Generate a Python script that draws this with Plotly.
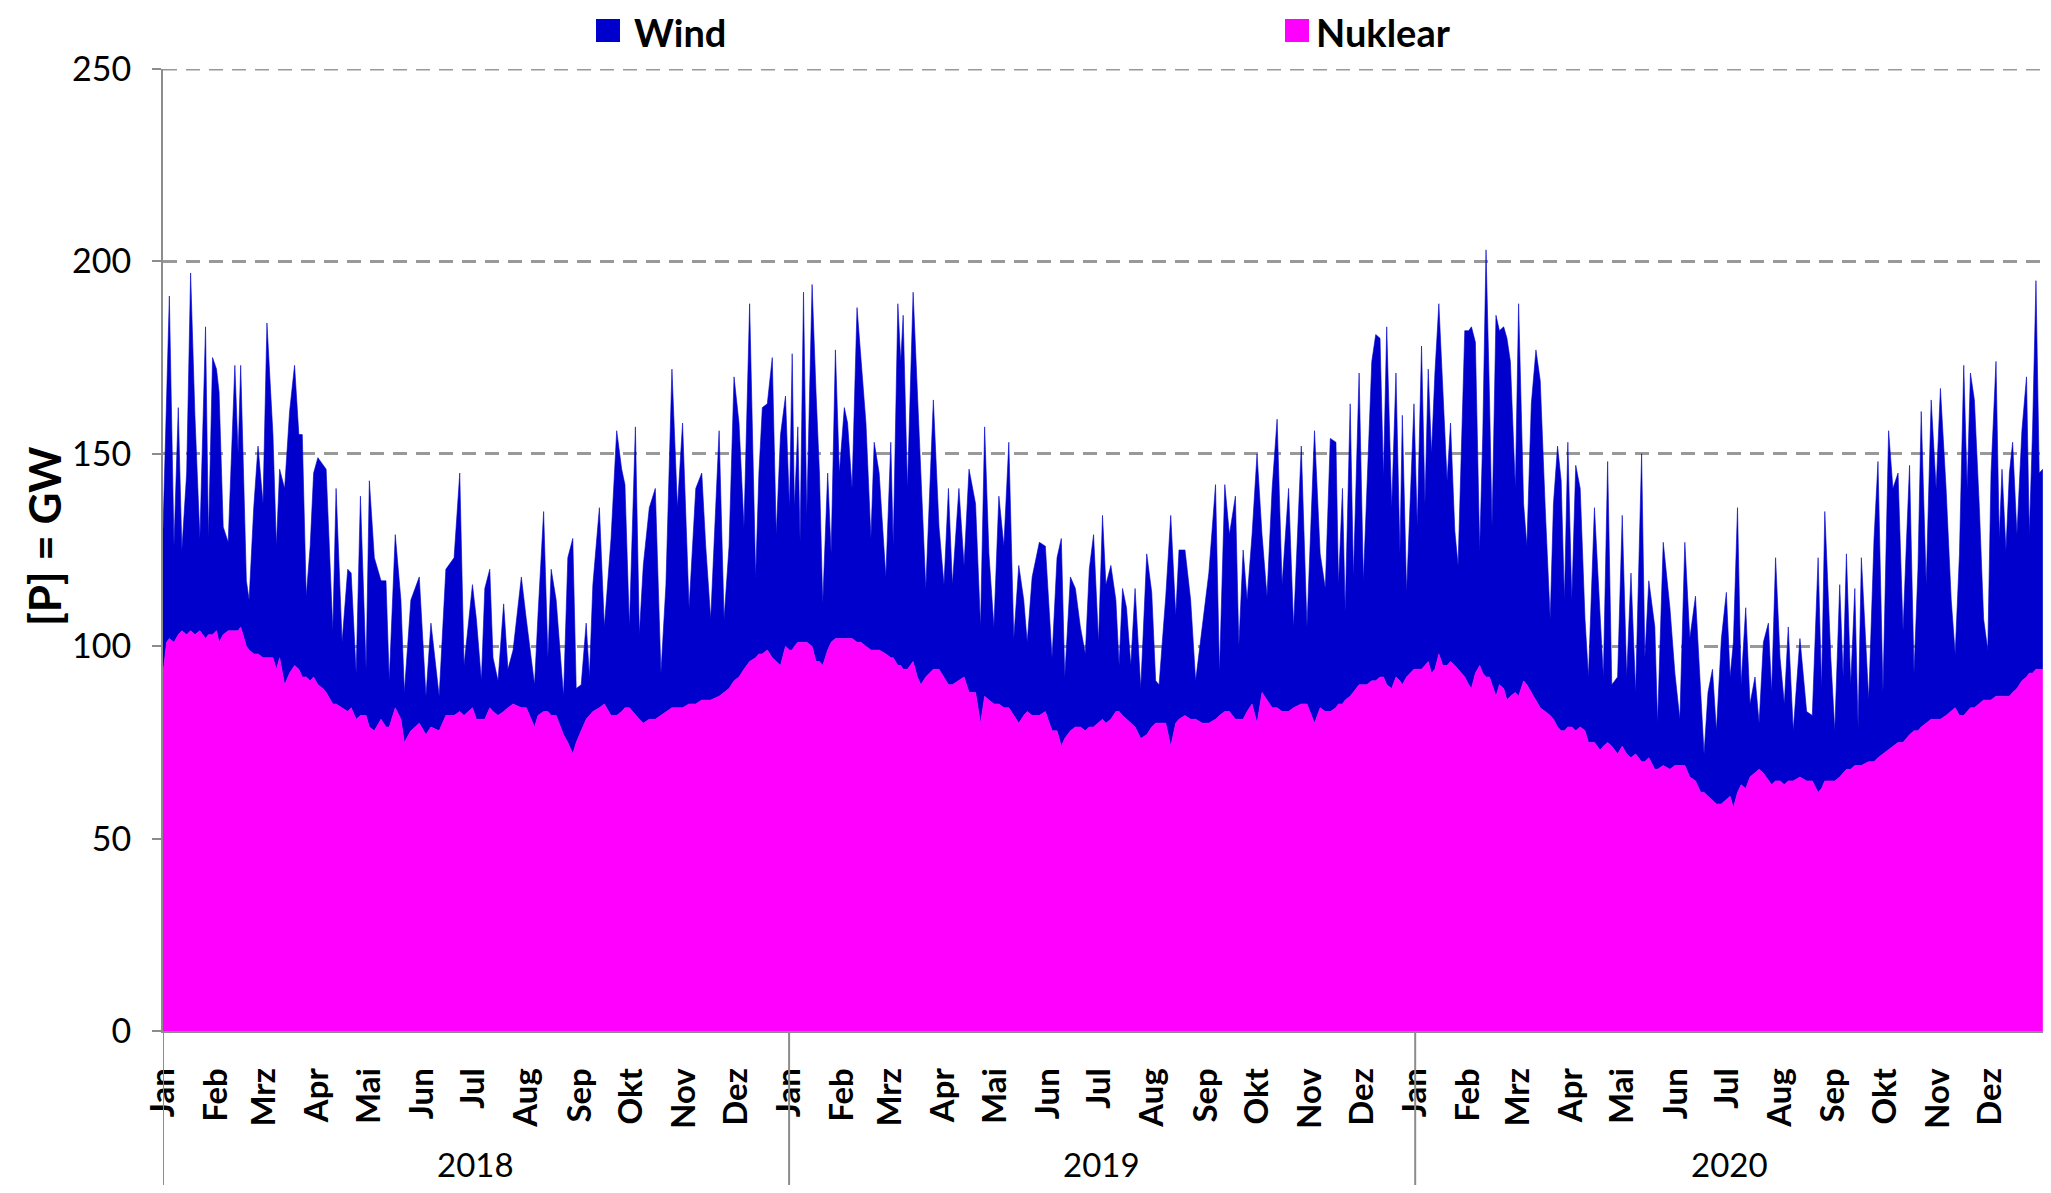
import pandas as pd
import plotly.graph_objects as go

# Values (GW). Day = days since 1 January of the year.
tage_2018 = [0.0, 2.1, 3.7, 6.4, 8.9, 11.0, 13.8, 16.1, 18.6, 21.5, 24.8, 26.5, 28.9, 31.2, 32.7, 35.1, 38.0, 41.9, 43.8, 45.3,
             48.6, 50.2, 52.9, 55.4, 58.3, 60.6, 64.1, 66.1, 68.0, 70.9, 73.8, 76.7, 79.2, 81.2, 83.5, 85.8, 87.8, 90.3, 93.2, 95.1,
             99.0, 100.9, 104.4, 107.7, 109.7, 112.6, 115.1, 118.4, 120.3, 123.2, 127.1, 130.0, 131.9, 135.4, 138.7, 140.7, 144.5, 149.4, 153.3, 156.2,
             161.0, 164.9, 169.7, 173.0, 175.5, 180.4, 182.7, 185.6, 187.6, 190.5, 192.4, 195.3, 198.6, 201.1, 204.1, 208.9, 211.8, 216.6, 218.6, 221.9,
             224.4, 226.3, 229.2, 233.5, 236.0, 238.9, 240.9, 243.8, 246.7, 248.6, 250.6, 254.4, 257.3, 261.2, 264.5, 267.4, 269.3, 271.9, 275.4, 277.7,
             280.0, 283.5, 287.0, 290.3, 293.2, 296.7, 299.9, 302.9, 306.7, 310.6, 314.1, 316.4, 319.3, 324.2, 327.1, 330.0, 332.9, 335.8, 338.7, 342.0,
             345.5, 347.4, 349.4, 352.3, 355.2, 357.5, 360.0, 362.9]
nuklear_2018 = [93, 101, 102, 101, 103, 104, 103, 104, 103, 104, 102, 103, 103, 104, 101, 103, 104, 104, 104, 105,
                100, 99, 98, 98, 97, 97, 97, 94, 97, 90, 93, 95, 94, 92, 92, 91, 92, 90, 89, 88,
                85, 85, 84, 83, 84, 81, 82, 82, 79, 78, 81, 79, 79, 84, 81, 75, 78, 80, 77, 79,
                78, 82, 82, 83, 82, 84, 81, 81, 81, 84, 83, 82, 83, 84, 85, 84, 84, 79, 82, 83,
                83, 82, 82, 77, 75, 72, 75, 78, 81, 82, 83, 84, 85, 82, 82, 83, 84, 84, 82, 81,
                80, 81, 81, 82, 83, 84, 84, 84, 85, 85, 86, 86, 86, 87, 88, 89, 91, 92, 94, 96,
                97, 98, 98, 99, 97, 96, 95, 100]
wind_2018 = [37, 66, 89, 25, 59, 21, 42, 93, 57, 24, 81, 25, 72, 68, 65, 28, 23, 69, 46, 68,
             17, 13, 38, 54, 40, 87, 58, 32, 49, 51, 68, 78, 61, 63, 21, 35, 53, 59, 58, 58,
             19, 56, 17, 37, 35, 12, 57, 12, 64, 45, 36, 38, 12, 45, 31, 13, 34, 38, 10, 27,
             9, 38, 41, 62, 13, 32, 26, 10, 34, 36, 14, 9, 28, 10, 14, 34, 23, 11, 26, 52,
             14, 38, 30, 10, 48, 56, 14, 12, 25, 10, 33, 52, 20, 46, 74, 63, 58, 21, 75, 22,
             41, 55, 60, 11, 33, 88, 52, 74, 25, 56, 59, 40, 21, 69, 19, 37, 79, 66, 37, 93,
             21, 47, 64, 64, 78, 33, 60, 65]

tage_2019 = [0.2, 1.8, 3.1, 5.1, 6.4, 8.4, 10.3, 13.4, 15.7, 17.7, 19.6, 22.5, 24.5, 27.0, 29.3, 32.2, 34.1, 36.7, 39.6, 41.9,
             44.8, 47.7, 49.6, 52.5, 56.4, 59.3, 60.7, 63.4, 65.1, 66.5, 69.0, 72.3, 74.8, 76.8, 79.7, 84.1, 87.4, 90.3, 92.9, 95.2,
             99.0, 102.0, 104.9, 108.7, 111.6, 114.0, 116.5, 119.4, 122.3, 125.2, 128.1, 131.0, 133.9, 136.8, 138.8, 141.7, 145.9, 149.4, 153.3, 156.2,
             158.7, 160.7, 164.0, 166.9, 169.8, 172.7, 175.0, 177.5, 180.4, 182.7, 184.7, 187.6, 190.5, 192.4, 194.4, 196.7, 199.2, 201.7, 205.0, 208.5,
             211.4, 213.7, 215.7, 219.6, 222.5, 225.4, 227.3, 230.8, 234.1, 237.0, 240.9, 244.7, 248.6, 250.9, 254.0, 256.7, 260.2, 262.2, 264.7, 267.0,
             269.9, 272.8, 275.7, 278.6, 281.6, 284.5, 287.4, 291.2, 294.1, 298.6, 301.9, 306.3, 309.6, 312.6, 315.5, 318.8, 320.3, 322.6, 324.2, 327.1,
             329.0, 332.3, 334.8, 336.8, 339.7, 342.0, 344.5, 346.5, 348.4, 351.3, 353.8, 356.1, 357.5, 360.0, 364.3]
nuklear_2019 = [99, 99, 100, 101, 101, 101, 101, 100, 96, 96, 95, 99, 101, 102, 102, 102, 102, 102, 101, 101,
                100, 99, 99, 99, 98, 97, 97, 95, 95, 94, 94, 96, 92, 90, 92, 94, 94, 92, 90, 90,
                91, 92, 88, 88, 80, 87, 86, 85, 85, 84, 84, 82, 80, 82, 83, 82, 82, 83, 78, 78,
                74, 76, 78, 79, 79, 78, 79, 79, 80, 81, 80, 81, 83, 83, 82, 81, 80, 79, 76, 77,
                79, 80, 80, 80, 74, 80, 81, 82, 81, 81, 80, 80, 81, 82, 83, 83, 81, 81, 81, 83,
                85, 80, 88, 86, 84, 84, 83, 83, 84, 85, 85, 80, 84, 83, 83, 84, 85, 85, 86, 87,
                88, 90, 90, 90, 91, 91, 92, 92, 90, 89, 92, 91, 90, 92, 94]
wind_2019 = [37, 77, 36, 56, 26, 91, 33, 94, 70, 49, 16, 46, 23, 75, 43, 60, 56, 39, 87, 73,
             58, 29, 54, 46, 20, 56, 29, 94, 79, 92, 47, 96, 73, 55, 23, 70, 37, 24, 51, 26,
             50, 29, 58, 49, 25, 70, 38, 20, 54, 42, 69, 20, 41, 30, 18, 36, 45, 43, 19, 45,
             54, 16, 40, 36, 26, 20, 41, 50, 21, 53, 36, 40, 29, 12, 33, 29, 15, 36, 13, 47,
             35, 11, 10, 33, 60, 28, 44, 43, 31, 10, 25, 39, 61, 11, 59, 46, 58, 19, 44, 29,
             44, 70, 41, 27, 57, 75, 33, 58, 21, 67, 20, 76, 40, 32, 71, 69, 31, 56, 23, 76,
             30, 81, 27, 51, 83, 90, 88, 52, 93, 47, 79, 33, 70, 22, 69]

tage_2020 = [1.2, 3.7, 5.7, 7.6, 9.5, 11.5, 13.8, 16.1, 18.6, 20.6, 23.1, 25.0, 27.4, 28.9, 31.2, 32.8, 35.1, 37.6, 39.4, 41.3,
             43.3, 44.8, 47.1, 49.1, 51.6, 53.5, 55.5, 58.4, 60.3, 63.2, 65.1, 67.7, 70.4, 72.9, 75.8, 78.7, 80.6, 83.0, 85.1, 87.0,
             89.0, 91.3, 93.6, 96.2, 99.0, 101.0, 104.5, 107.8, 109.7, 112.2, 114.6, 118.0, 120.7, 123.3, 125.8, 128.5, 132.0, 133.9, 136.2, 139.7,
             141.3, 144.6, 148.5, 151.4, 154.3, 157.2, 160.1, 163.4, 166.5, 168.4, 170.7, 173.3, 175.6, 178.5, 181.4, 183.6, 185.5, 187.9, 190.0, 192.7,
             195.2, 198.1, 200.5, 203.0, 205.9, 207.8, 210.1, 212.7, 215.2, 217.5, 220.4, 224.3, 228.2, 231.5, 234.9, 236.9, 238.8, 242.3, 244.6, 247.5,
             249.5, 251.4, 253.9, 256.3, 258.2, 260.1, 264.4, 267.5, 269.8, 272.7, 276.0, 278.5, 281.5, 284.4, 286.3, 288.2, 290.8, 293.1, 295.0, 297.9,
             300.8, 303.7, 306.2, 309.5, 312.5, 314.8, 317.3, 319.8, 321.8, 323.7, 326.0, 328.9, 331.4, 333.8, 335.7, 338.6, 340.5, 342.1, 344.4, 346.4,
             348.3, 350.8, 353.7, 356.4, 358.0, 359.9, 361.9, 363.8, 365.9]
nuklear_2020 = [94, 94, 95, 96, 93, 94, 98, 95, 95, 96, 95, 94, 93, 92, 90, 89, 93, 95, 93, 92,
                92, 90, 87, 90, 89, 86, 87, 88, 87, 91, 90, 88, 86, 84, 83, 82, 81, 79, 78, 78,
                79, 79, 78, 79, 78, 75, 75, 73, 74, 75, 74, 72, 74, 72, 71, 72, 70, 70, 71, 68,
                68, 69, 68, 69, 69, 69, 66, 65, 62, 62, 61, 60, 59, 59, 60, 61, 58, 62, 64, 63,
                66, 67, 68, 67, 65, 64, 65, 65, 64, 65, 65, 66, 65, 65, 62, 63, 65, 65, 65, 66,
                67, 68, 68, 69, 69, 69, 70, 70, 71, 72, 73, 74, 75, 75, 76, 77, 78, 78, 79, 80,
                81, 81, 81, 82, 83, 84, 82, 82, 83, 84, 84, 85, 86, 86, 86, 87, 87, 87, 87, 87,
                88, 89, 91, 92, 93, 93, 94, 94, 94]
wind_2020 = [37, 84, 42, 76, 57, 77, 91, 70, 48, 62, 35, 27, 67, 90, 92, 94, 86, 30, 62, 111,
             73, 41, 99, 92, 94, 94, 87, 53, 102, 46, 36, 75, 91, 85, 53, 25, 56, 73, 65, 34,
             74, 33, 69, 62, 29, 17, 61, 34, 18, 73, 16, 20, 60, 20, 48, 16, 80, 27, 46, 37,
             12, 58, 42, 24, 12, 58, 36, 48, 26, 10, 27, 34, 19, 43, 54, 31, 43, 74, 26, 47,
             19, 25, 12, 34, 41, 24, 58, 32, 21, 40, 13, 36, 18, 17, 61, 26, 70, 32, 13, 50,
             25, 56, 22, 46, 10, 54, 16, 58, 77, 16, 83, 67, 70, 29, 50, 70, 15, 42, 82, 36,
             83, 60, 86, 59, 29, 14, 42, 91, 58, 87, 80, 51, 21, 13, 59, 87, 41, 59, 38, 58,
             65, 40, 65, 78, 36, 63, 101, 51, 52]

jahre = [2018, 2019, 2020]
monate = ["Jan", "Feb", "Mrz", "Apr", "Mai", "Jun", "Jul", "Aug", "Sep", "Okt", "Nov", "Dez"]
y_ticks = [0, 50, 100, 150, 200, 250]

tage = {2018: tage_2018, 2019: tage_2019, 2020: tage_2020}
nuklear = {2018: nuklear_2018, 2019: nuklear_2019, 2020: nuklear_2020}
wind = {2018: wind_2018, 2019: wind_2019, 2020: wind_2020}

x_all, nuk_all, wind_all = [], [], []
for j in jahre:
    start = pd.Timestamp(f"{j}-01-01")
    x_all += list(start + pd.to_timedelta(tage[j], unit="D"))
    nuk_all += nuklear[j]
    wind_all += wind[j]

BLUE = "#0000CC"
MAGENTA = "#FF00FF"
GREY = "#8c8c8c"
GRID = "#999999"
DASH = "14px,9px"
FONT = "Lato"

fig = go.Figure()
fig.add_trace(go.Scatter(x=x_all, y=nuk_all, name="Nuklear", stackgroup="one", mode="lines",
                         line=dict(width=0.6, color=MAGENTA), fillcolor=MAGENTA, showlegend=False))
fig.add_trace(go.Scatter(x=x_all, y=wind_all, name="Wind", stackgroup="one", mode="lines",
                         line=dict(width=0.6, color=BLUE), fillcolor=BLUE, showlegend=False))

# The page adds an 8px body margin, so the figure is sized to fit inside the 2051x1193 window.
OFF = 8
W, H = 2051 - 2 * OFF, 1193 - 2 * OFF
PL, PT, PB = 163 - OFF, 69 - OFF, 1031 - OFF
PR = W


def fx(px):  # window pixel -> paper x
    return (px - OFF - PL) / (PR - PL)


def fy(py):  # window pixel -> paper y
    return (PB - (py - OFF)) / (PB - PT)


tickvals, ticktext = [], []
for j in jahre:
    for m, name in enumerate(monate):
        tickvals.append(pd.Timestamp(year=j, month=m + 1, day=1))
        ticktext.append(name)

fig.update_layout(
    width=W, height=H,
    margin=dict(l=PL, r=W - PR, t=PT, b=H - PB, pad=0),
    paper_bgcolor="white", plot_bgcolor="white",
    font=dict(family=FONT, color="black"),
    showlegend=False,
    xaxis=dict(type="date", range=["2018-01-01", "2021-01-01"], tickvals=tickvals, ticktext=ticktext,
               tickangle=-90, tickfont=dict(family=FONT, size=33, color="black", weight="bold"),
               showgrid=False, zeroline=False, showline=True, linecolor=GREY, linewidth=2,
               ticks="", ticklabelstandoff=22),
    yaxis=dict(range=[0, 250], tickvals=y_ticks, showgrid=True, gridcolor=GRID,
               griddash=DASH, gridwidth=3, zeroline=False, showline=True, linecolor=GREY,
               linewidth=2, ticks="outside", ticklen=9, tickwidth=2, tickcolor=GREY,
               tickfont=dict(family=FONT, size=34, color="black"), ticklabelstandoff=14),
)

shapes = []
# top gridline at 250 (at the plot edge)
shapes.append(dict(type="line", xref="paper", yref="y", x0=0, x1=1, y0=250, y1=250,
                   line=dict(color=GRID, width=3, dash=DASH)))
for j in jahre:
    shapes.append(dict(type="line", xref="x", yref="paper", x0=f"{j}-01-01", x1=f"{j}-01-01",
                       y0=0, y1=fy(1193), line=dict(color=GREY, width=2)))
# legend swatches
shapes.append(dict(type="rect", xref="paper", yref="paper", x0=fx(596), x1=fx(620), y0=fy(42), y1=fy(19),
                   fillcolor=BLUE, line=dict(width=0)))
shapes.append(dict(type="rect", xref="paper", yref="paper", x0=fx(1285), x1=fx(1309), y0=fy(42), y1=fy(19),
                   fillcolor=MAGENTA, line=dict(width=0)))
fig.update_layout(shapes=shapes)

annotations = []
for j in jahre:
    mid = pd.Timestamp(f"{j}-07-02")
    annotations.append(dict(x=mid, y=fy(1164), xref="x", yref="paper", text=str(j), showarrow=False,
                            xanchor="center", yanchor="middle", font=dict(family=FONT, size=33, color="black")))
annotations.append(dict(x=fx(632), y=fy(32), xref="paper", yref="paper", text="Wind", showarrow=False,
                        xanchor="left", yanchor="middle",
                        font=dict(family=FONT, size=38, color="black", weight="bold")))
annotations.append(dict(x=fx(1314), y=fy(32), xref="paper", yref="paper", text="Nuklear", showarrow=False,
                        xanchor="left", yanchor="middle",
                        font=dict(family=FONT, size=38, color="black", weight="bold")))
annotations.append(dict(x=fx(44), y=fy(536), xref="paper", yref="paper", text="[P] = GW", showarrow=False,
                        textangle=-90, xanchor="center", yanchor="middle",
                        font=dict(family=FONT, size=44, color="black", weight="bold")))
fig.update_layout(annotations=annotations)

fig.write_html("out.html", config={"displayModeBar": False})
